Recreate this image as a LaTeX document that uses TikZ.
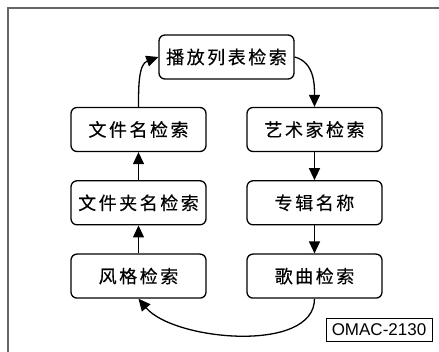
\documentclass[tikz,border=0pt]{standalone}
\usepackage{fontspec}
\setsansfont{Liberation Sans}
\newfontfamily\cjk[LetterSpace=14,FakeBold=0.3]{Noto Sans CJK SC}
\usetikzlibrary{positioning,arrows.meta}

\begin{document}
\begin{tikzpicture}[
x=1pt, y=-1pt,
node distance=28pt,
searchbox/.style={
draw,
line width=1.3pt,
rounded corners=6pt,
minimum width=135pt,
minimum height=44pt,
align=center,
font=\cjk\fontsize{18}{20}\selectfont,
inner sep=2pt
},
tag/.style={
draw,
line width=0.8pt,
minimum width=106pt,
minimum height=23pt,
font=\sffamily\fontsize{17}{20}\selectfont,
inner sep=1pt
},
arr/.style={-{Triangle[length=12pt,width=11pt]}, line width=1.3pt},
>=Latex
]

\useasboundingbox (0,0) rectangle (439,352);
\draw[gray!80!black, line width=1.5pt] (8,352) |- (439,8);

\node[searchbox] (playlist) at (226.5,57) {播放列表检索};

\node[searchbox] (filename) at (138.5,129.5) {文件名检索};
\node[searchbox] (folder) [below=of filename] {文件夹名检索};
\node[searchbox] (genre) [below=of folder] {风格检索};

\node[searchbox] (artist) at (314.5,129.5) {艺术家检索};
\node[searchbox] (album) [below=of artist] {专辑名称};
\node[searchbox] (song) [below=of album] {歌曲检索};

\node[tag] (code) at (379,329.5) {OMAC-2130};

\draw[arr] (playlist.east) to[out=-15,in=90] (artist.north);
\draw[arr] (artist)--(album);
\draw[arr] (album)--(song);
\draw[arr] (song.south) to[out=-90,in=-50,looseness=0.8] (genre.south);
\draw[arr] (genre)--(folder);
\draw[arr] (folder)--(filename);
\draw[arr] (filename.north) to[out=90,in=-160] (playlist.west);

\end{tikzpicture}
\end{document}
